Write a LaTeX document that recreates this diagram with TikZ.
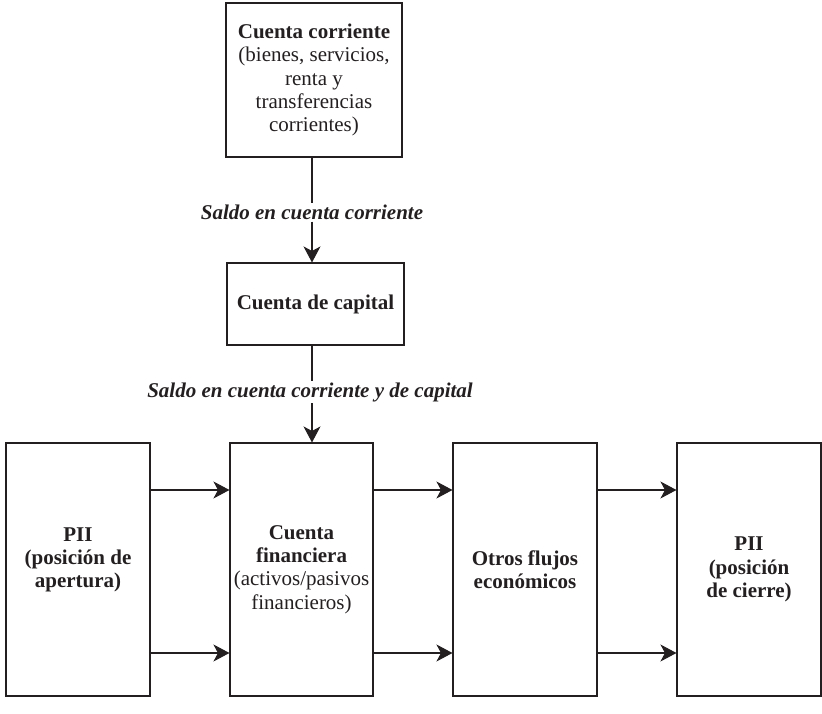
\documentclass[tikz,border=0pt]{standalone}
\usepackage{fontspec}
\setmainfont{Liberation Serif}
\usetikzlibrary{arrows.meta,calc}
\definecolor{ink}{HTML}{231F20}
\tikzset{
  box/.style={draw=ink, line width=1.1pt, inner sep=0pt, align=center, text=ink,
    font=\fontsize{21}{23.3}\selectfont},
  boldbox/.style={box, font=\fontsize{21}{23.3}\selectfont\bfseries},
  lbl/.style={inner sep=1.5pt, text=ink, font=\fontsize{21}{23.3}\selectfont\bfseries\itshape},
  conn/.style={draw=ink, line width=1.1pt},
  arr/.style={conn, -{Stealth[length=16pt,width=17pt,inset=4.5pt]}}
}
\begin{document}
\begin{tikzpicture}[x=1pt,y=-1pt]
\useasboundingbox (0,0) rectangle (822,714);
% boxes
\node[box, minimum width=176pt, minimum height=154pt] (top) at (314,80)
  {\textbf{Cuenta corriente}\\(bienes, servicios,\\renta y\\transferencias\\corrientes)};
\node[boldbox, minimum width=177pt, minimum height=82pt] (mid) at (315.5,304)
  {Cuenta de capital};
\node[boldbox, minimum width=144pt, minimum height=253pt, text depth=24pt] (b1) at (78,569.5)
  {PII\\(posición de\\apertura)};
\node[box, minimum width=143pt, minimum height=253pt] (b2) at (301.5,569.5)
  {\textbf{Cuenta}\\\textbf{financiera}\\(activos/pasivos\\financieros)};
\node[boldbox, minimum width=144pt, minimum height=253pt] (b3) at (525,569.5)
  {Otros flujos\\económicos};
\node[boldbox, minimum width=144pt, minimum height=253pt] (b4) at (749,569.5)
  {PII\\(posición\\de cierre)};
% labels
\node[lbl] (l1) at (312,212.5) {Saldo en cuenta corriente};
\node[lbl] (l2) at (310,392) {Saldo en cuenta corriente y de capital};
\coordinate (vx) at (312,0);
\coordinate (ya) at (0,490);
\coordinate (yb) at (0,653);
% vertical connectors
\draw[conn] (top.south -| vx) -- (l1.north -| vx);
\draw[arr] (l1.south -| vx) -- (mid.north -| vx);
\draw[conn] (mid.south -| vx) -- (l2.north -| vx);
\draw[arr] (l2.south -| vx) -- (b2.north -| vx);
% horizontal connectors
\draw[arr] (b1.east |- ya) -- (b2.west |- ya);
\draw[arr] (b1.east |- yb) -- (b2.west |- yb);
\draw[arr] (b2.east |- ya) -- (b3.west |- ya);
\draw[arr] (b2.east |- yb) -- (b3.west |- yb);
\draw[arr] (b3.east |- ya) -- (b4.west |- ya);
\draw[arr] (b3.east |- yb) -- (b4.west |- yb);
\end{tikzpicture}
\end{document}
